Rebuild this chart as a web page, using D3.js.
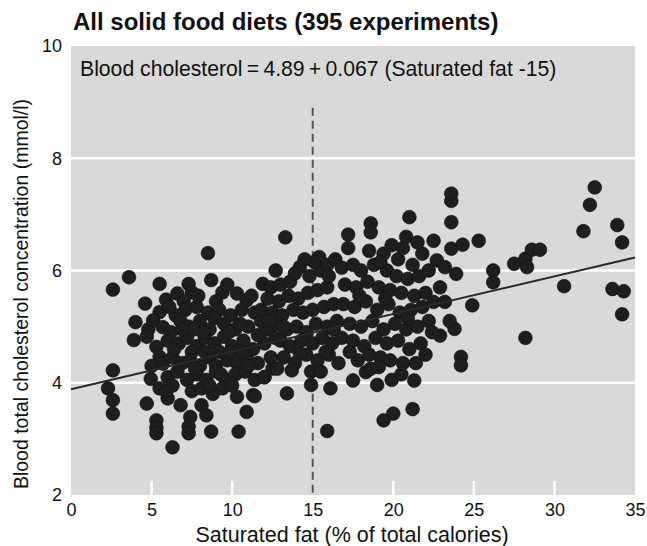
<!DOCTYPE html>
<html>
<head>
<meta charset="utf-8">
<script src="https://cdn.jsdelivr.net/npm/d3@7"></script>
<style>
  html, body { margin: 0; padding: 0; background: #fff; }
  svg { display: block; font-family: "Liberation Sans", Arial, Helvetica, sans-serif; }
</style>
</head>
<body>
<svg id="chart" width="647" height="546"></svg>
<script>
// Saturated fat (% of total calories) vs blood total cholesterol (mmol/l)
const dietPoints = [
  // low saturated fat
  [2.3,3.90],[2.6,3.69],[2.6,3.45],[2.6,4.22],[2.6,5.66],[3.6,5.88],[4.7,3.63],
  [5.3,3.33],[5.3,3.20],[5.3,3.10],[6.3,2.85],[7.4,3.39],[7.3,3.22],[7.3,3.10],
  [8.7,3.13],[10.4,3.13],[8.1,3.60],[8.4,3.42],[4.95,4.07],[5.5,3.90],[6.0,3.72],
  [6.8,3.60],[10.3,3.75],[10.9,3.48],[11.3,3.78],[4.6,5.41],[4.0,5.08],[3.9,4.76],
  [5.5,5.76],[7.3,5.76],[8.7,5.83],[8.5,6.31],
  // 5-12 %
  [5.9,5.48],[6.6,5.59],[7.5,5.61],[9.4,5.61],[10.3,5.59],[10.9,5.47],[7.0,5.45],[9.0,5.45],
  [5.5,5.26],[7.1,5.30],[7.8,5.35],[8.5,5.25],[9.2,5.30],[9.9,5.20],[10.6,5.30],[11.4,5.25],
  [6.5,5.20],[8.9,5.15],
  [4.8,4.95],[5.1,5.11],[5.7,4.99],[6.8,5.10],[7.3,5.00],[8.0,5.10],[8.6,4.95],[9.5,5.05],
  [10.2,4.95],[11.0,5.00],[11.8,5.10],[12.3,4.95],[6.2,4.90],
  [4.7,4.82],[5.3,4.64],[6.0,4.75],[6.7,4.70],[7.2,4.80],[7.8,4.65],[8.3,4.80],[8.9,4.70],
  [9.5,4.82],[10.0,4.65],[10.7,4.75],[11.3,4.60],[12.0,4.70],[12.7,4.80],[7.5,4.55],[9.2,4.55],
  [5.5,4.46],[5.7,4.34],[6.3,4.45],[6.9,4.35],[7.4,4.40],[8.0,4.30],[8.6,4.45],[9.0,4.30],
  [9.7,4.40],[10.3,4.35],[10.9,4.45],[11.6,4.35],[12.4,4.45],[8.3,4.55],[10.6,4.55],
  [6.0,4.10],[6.6,4.20],[7.2,4.05],[7.8,4.15],[8.4,4.05],[9.0,4.20],[9.6,4.05],[10.2,4.15],
  [10.8,4.20],[11.4,4.05],[12.0,4.10],[6.3,3.95],
  [7.5,3.85],[8.1,3.90],[8.8,3.80],[9.4,3.90],[10.0,3.95],[5.9,3.85],
  [6.1,5.35],[7.9,5.55],[8.2,4.90],[9.8,4.90],[7.6,4.95],[6.4,4.60],[9.3,4.15],[11.0,4.30],
  [10.5,5.05],[11.6,4.85],[5.0,4.30],[8.6,3.95],[9.9,4.55],[12.5,4.25],[6.9,4.95],[7.7,4.25],
  [11.2,5.55],[9.7,5.75],
  // 12-17 %
  [11.9,5.76],[12.4,5.70],[13.0,5.75],[13.6,5.80],[14.2,6.06],[15.4,6.24],[14.8,5.90],[15.5,6.00],
  [13.3,6.59],[12.2,5.50],[12.9,5.45],[13.5,5.55],[14.1,5.50],[14.7,5.60],[15.3,5.65],[15.9,5.70],
  [11.8,5.30],[12.5,5.25],[13.1,5.20],[13.8,5.30],[14.4,5.25],[15.0,5.30],[15.7,5.35],[16.3,5.40],
  [12.1,4.95],[12.8,5.05],[13.4,4.95],[14.0,5.00],[14.6,4.90],[15.2,5.05],[15.9,5.00],[16.5,5.10],
  [13.0,4.75],[13.6,4.65],[14.3,4.75],[15.0,4.70],[15.6,4.80],[16.2,4.70],[16.8,4.80],
  [13.2,4.45],[13.9,4.35],[14.6,4.50],[15.3,4.40],[16.0,4.50],[16.6,4.35],
  [12.0,4.10],[13.7,4.22],[14.2,4.52],[13.4,3.81],[11.4,3.76],[14.9,3.96],[16.1,3.90],[15.9,3.14],
  [15.9,6.10],[16.4,6.20],[15.1,6.15],
  [12.7,6.00],[13.9,5.95],[14.5,6.20],[12.3,5.10],[13.2,5.00],[15.8,4.55],[16.3,4.95],[14.9,4.20],
  [15.5,4.20],[12.8,4.25],[16.0,5.90],
  // 17-25 %
  [17.2,6.64],[17.2,6.40],[18.6,6.84],[18.6,6.68],[18.5,6.35],[19.4,6.30],[19.9,6.45],[20.3,6.20],
  [21.0,6.95],[20.6,6.40],[21.2,6.10],[21.8,6.30],[22.5,6.53],[22.7,6.18],[23.2,6.06],[23.9,5.94],
  [16.8,6.05],[17.5,6.10],[18.0,6.00],[18.8,6.10],[19.6,6.00],[20.2,5.90],[20.9,5.85],[21.6,5.90],
  [17.0,5.75],[17.7,5.70],[18.4,5.80],[19.1,5.70],[19.8,5.65],[20.5,5.60],[21.3,5.55],[22.0,5.60],
  [16.9,5.40],[17.6,5.35],[18.3,5.45],[19.0,5.30],[19.7,5.40],[20.4,5.25],[21.1,5.30],[21.8,5.35],
  [22.5,5.44],[23.2,5.44],
  [17.3,5.05],[18.0,5.00],[18.7,5.10],[19.4,4.95],[20.1,5.05],[20.8,4.95],[21.5,5.00],[22.2,5.10],
  [17.5,4.75],[18.2,4.65],[18.9,4.80],[19.6,4.70],[20.3,4.75],[21.0,4.60],[21.7,4.70],[22.9,4.84],
  [17.8,4.40],[18.5,4.50],[19.2,4.45],[19.8,4.40],[20.6,4.35],
  [17.5,4.04],[18.3,4.19],[19.1,4.28],[19.0,3.96],[21.3,4.04],[21.2,3.53],[20.0,3.45],[19.4,3.33],
  [23.8,4.96],[24.2,4.46],[24.2,4.31],[24.9,5.38],[23.6,6.86],[23.6,7.24],[23.6,7.37],[23.6,6.39],
  [24.3,6.46],[25.3,6.53],
  [19.2,6.15],[20.8,6.60],[21.5,6.50],[22.2,6.00],[19.5,5.50],[20.9,5.15],[22.4,4.90],[18.6,4.25],
  [19.9,4.05],[20.5,4.15],[17.9,5.55],[22.9,5.70],[23.5,5.10],[21.4,4.35],[22.0,4.50],[17.3,4.55],
  // high saturated fat
  [26.2,6.00],[26.2,5.79],[27.5,6.12],[28.2,6.21],[28.3,6.06],[28.6,6.37],[29.1,6.37],[28.2,4.80],
  [30.6,5.72],[31.8,6.70],[32.2,7.17],[32.5,7.48],[33.9,6.81],[34.2,6.50],[33.6,5.67],[34.3,5.63],
  [34.2,5.22]
];

const xDomain = [0, 35];
const yDomain = [2, 10];
const xTickValues = [0, 5, 10, 15, 20, 25, 30, 35];
const yTickValues = [2, 4, 6, 8, 10];
const yGridValues = [4, 6, 8];

// Fitted line: cholesterol = intercept + slope * (satFat - centre)
const fitIntercept = 4.89;
const fitSlope = 0.067;
const fitCentre = 15;

const titleText = "All solid food diets (395 experiments)";
const equationText = "Blood cholesterol\u2009=\u20094.89\u2009+\u20090.067 (Saturated fat -15)";
const xTitle = "Saturated fat (% of total calories)";
const yTitle = "Blood total cholesterol concentration (mmol/l)";

const svg = d3.select("#chart");
const margin = { left: 71, right: 12, top: 46, bottom: 51 };
const W = 647, H = 546;

const x = d3.scaleLinear().domain(xDomain).range([margin.left, W - margin.right]);
const y = d3.scaleLinear().domain(yDomain).range([H - margin.bottom, margin.top]);

// Panel background
svg.append("rect")
  .attr("x", x(xDomain[0])).attr("y", y(yDomain[1]))
  .attr("width", x(xDomain[1]) - x(xDomain[0]))
  .attr("height", y(yDomain[0]) - y(yDomain[1]))
  .attr("fill", "#d9d9d9");

// Horizontal white grid lines
svg.append("g").selectAll("line").data(yGridValues).join("line")
  .attr("x1", x(xDomain[0])).attr("x2", x(xDomain[1]))
  .attr("y1", d => y(d)).attr("y2", d => y(d))
  .attr("stroke", "#fff").attr("stroke-width", 2.5);

// Short white ticks rising from the bottom of the panel
svg.append("g").selectAll("line")
  .data(xTickValues.filter(v => v > xDomain[0] && v < xDomain[1] && v !== fitCentre))
  .join("line")
  .attr("x1", d => x(d)).attr("x2", d => x(d))
  .attr("y1", y(yDomain[0])).attr("y2", y(yDomain[0]) - 14)
  .attr("stroke", "#fff").attr("stroke-width", 2.5);

// Dashed reference line at the centring value
svg.append("line")
  .attr("x1", x(fitCentre)).attr("x2", x(fitCentre))
  .attr("y1", y(8.9)).attr("y2", y(yDomain[0]))
  .attr("stroke", "#555").attr("stroke-width", 2)
  .attr("stroke-dasharray", "8,5");

// Data points
svg.append("g").selectAll("circle").data(dietPoints).join("circle")
  .attr("cx", d => x(d[0])).attr("cy", d => y(d[1]))
  .attr("r", 6.9)
  .attr("fill", "#1e1e1e")
  .attr("stroke", "#111").attr("stroke-width", 0.6);

// Regression line
const fit = v => fitIntercept + fitSlope * (v - fitCentre);
svg.append("line")
  .attr("x1", x(xDomain[0])).attr("y1", y(fit(xDomain[0])))
  .attr("x2", x(xDomain[1])).attr("y2", y(fit(xDomain[1])))
  .attr("stroke", "#2a2a2a").attr("stroke-width", 2);

// Axes: only labels, no domain lines or tick marks
const xAxis = d3.axisBottom(x).tickValues(xTickValues).tickSize(0).tickPadding(8);
svg.append("g").attr("transform", `translate(0,${y(yDomain[0])})`).call(xAxis)
  .call(g => g.select(".domain").remove())
  .selectAll("text").attr("font-size", 18).attr("fill", "#111")
  .attr("font-family", "Liberation Sans, Arial, sans-serif");

const yAxis = d3.axisLeft(y).tickValues(yTickValues).tickSize(0).tickPadding(9);
svg.append("g").attr("transform", `translate(${x(xDomain[0])},0)`).call(yAxis)
  .call(g => g.select(".domain").remove())
  .selectAll("text").attr("font-size", 18).attr("fill", "#111")
  .attr("font-family", "Liberation Sans, Arial, sans-serif");

// Titles
svg.append("text").attr("x", 73).attr("y", 30)
  .attr("font-size", 24).attr("font-weight", "bold").attr("fill", "#111")
  .text(titleText);

svg.append("text").attr("x", 80).attr("y", 76)
  .attr("font-size", 21.2).attr("fill", "#111")
  .text(equationText);

svg.append("text").attr("x", 352).attr("y", 542)
  .attr("text-anchor", "middle").attr("font-size", 21.5).attr("fill", "#111")
  .text(xTitle);

svg.append("text")
  .attr("transform", "translate(28,294) rotate(-90)")
  .attr("text-anchor", "middle").attr("font-size", 19.5).attr("fill", "#111")
  .text(yTitle);
</script>
</body>
</html>
